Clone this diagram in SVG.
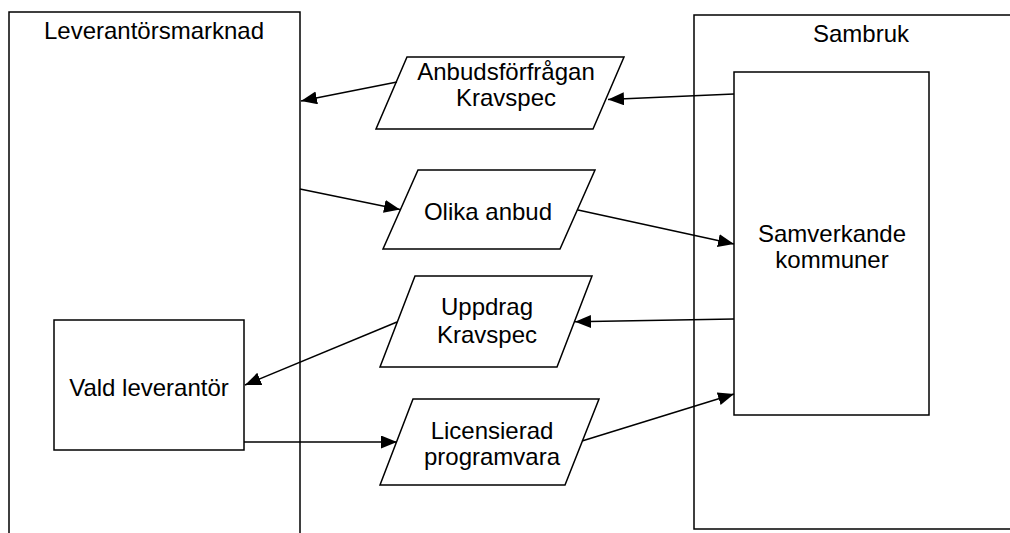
<svg xmlns="http://www.w3.org/2000/svg" width="1010" height="533" viewBox="0 0 1010 533">
  <style>
    .box { fill: #ffffff; stroke: #000000; stroke-width: 1.5; }
    .lbl { font-family: "Liberation Sans", Arial, sans-serif; font-size: 24px; fill: #000000; text-anchor: middle; }
    .edge { stroke: #000000; stroke-width: 1.5; fill: none; marker-end: url(#arrow); }
  </style>
  <defs>
    <marker id="arrow" markerUnits="userSpaceOnUse" markerWidth="17" markerHeight="14" refX="16" refY="6.5" orient="auto">
      <path d="M0,0 L16,6.5 L0,13 Z" fill="#000000"/>
    </marker>
  </defs>

  <!-- Supplier market (open at the bottom) -->
  <g id="leverantorsmarknad">
    <rect class="box" x="9" y="12" width="291" height="540"/>
    <text class="lbl" x="154" y="39">Leverantörsmarknad</text>
  </g>

  <!-- Sambruk (continues past the right edge) -->
  <g id="sambruk">
    <rect class="box" x="694" y="15" width="340" height="514"/>
    <text class="lbl" x="861" y="42">Sambruk</text>
  </g>

  <g id="samverkande">
    <rect class="box" x="734" y="72" width="195" height="343"/>
    <text class="lbl" x="832" y="242">Samverkande</text>
    <text class="lbl" x="832" y="268">kommuner</text>
  </g>

  <g id="vald-leverantor">
    <rect class="box" x="54" y="320" width="190" height="130"/>
    <text class="lbl" x="149" y="396">Vald leverantör</text>
  </g>

  <!-- Data parallelograms -->
  <g id="anbudsforfragan">
    <polygon class="box" points="407,57 624,57 593,129 376,129"/>
    <text class="lbl" x="506" y="80">Anbudsförfrågan</text>
    <text class="lbl" x="506" y="106">Kravspec</text>
  </g>

  <g id="olika-anbud">
    <polygon class="box" points="418,170 595,170 560,249 383,249"/>
    <text class="lbl" x="488" y="220">Olika anbud</text>
  </g>

  <g id="uppdrag">
    <polygon class="box" points="415,276 592,276 557,367 380,367"/>
    <text class="lbl" x="487" y="315">Uppdrag</text>
    <text class="lbl" x="487" y="343">Kravspec</text>
  </g>

  <g id="licensierad">
    <polygon class="box" points="413,399 599,399 565,485 380,485"/>
    <text class="lbl" x="492" y="439">Licensierad</text>
    <text class="lbl" x="492" y="465">programvara</text>
  </g>

  <!-- Connectors -->
  <g id="connectors">
    <line class="edge" x1="734" y1="94" x2="608" y2="99.5"/>
    <line class="edge" x1="397" y1="82" x2="301" y2="101"/>
    <line class="edge" x1="300" y1="189" x2="400" y2="209.5"/>
    <line class="edge" x1="578" y1="210" x2="734" y2="244"/>
    <line class="edge" x1="734" y1="319" x2="575" y2="321.7"/>
    <line class="edge" x1="397" y1="322" x2="245" y2="385"/>
    <line class="edge" x1="244" y1="442" x2="397" y2="442"/>
    <line class="edge" x1="582" y1="441" x2="734" y2="394"/>
  </g>
</svg>
